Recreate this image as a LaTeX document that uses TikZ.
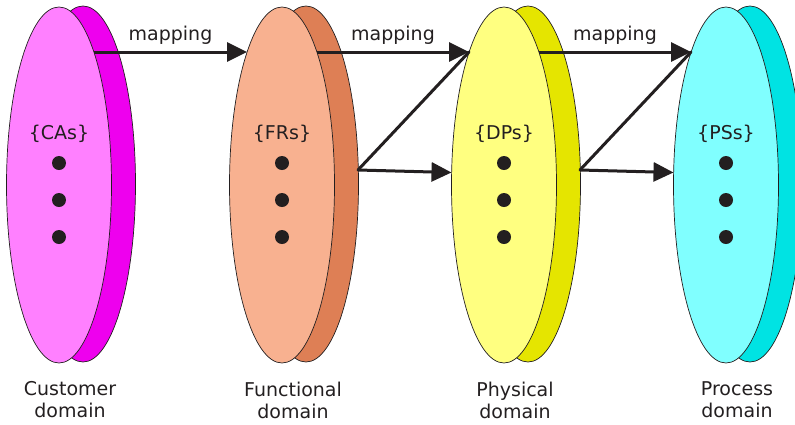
\documentclass[tikz,border=0pt]{standalone}
\usepackage{fontspec}
\setmainfont{DejaVu Sans}
\usetikzlibrary{shapes.geometric,arrows.meta,calc}

\definecolor{ink}{RGB}{35,31,32}
\definecolor{cafront}{HTML}{FF80FF}
\definecolor{caback}{HTML}{EE00EE}
\definecolor{frfront}{HTML}{F8B190}
\definecolor{frback}{HTML}{DE7F55}
\definecolor{dpfront}{HTML}{FFFF80}
\definecolor{dpback}{HTML}{E5E500}
\definecolor{psfront}{HTML}{80FFFF}
\definecolor{psback}{HTML}{00E3E3}

\tikzset{
    disc/.style={ellipse,draw=ink,line width=0.7pt,minimum width=105pt,
                 minimum height=356pt,inner sep=0pt,outer sep=0pt},
    dot/.style={circle,fill=ink,minimum size=14pt,inner sep=0pt},
    mapto/.style={draw=ink,line width=3pt,-{Triangle[length=20pt,width=19pt]}},
    mapline/.style={draw=ink,line width=3pt,line cap=round}
}

\begin{document}
\begin{tikzpicture}[x=1pt,y=-1pt,font=\fontsize{19}{22}\selectfont,text=ink]
    \useasboundingbox (0,0) rectangle (795,424);

    %% Draw the four domains.
    % Back disc first, then the front disc with its set and dots.
    \foreach \d/\x/\set/\first/\second in {%
        ca/59/CAs/Customer/domain,
        fr/282/FRs/Functional/domain,
        dp/504/DPs/Physical/domain,
        ps/726/PSs/Process/domain} {
        \node[disc,fill=\d back] (\d back) at (\x+24,184) {};
        \node[disc,fill=\d front] (\d) at (\x,185) {};
        \node (\d set) at (\x,134) {\{\set\}};
        \foreach \y/\k in {163/1,200/2,237/3} {
            \node[dot] (\d dot\k) at (\x,\y) {};
        }
        \node[align=center] (\d name) at (\x+11,400) {\first\\\second};
        % Points on the rims where the arrows meet.
        \coordinate (\d out) at ($(\d)+(35,-133)$);
        \coordinate (\d in)  at ($(\d)+(-35,-133)$);
        \coordinate (\d low) at ($(\d back)+(52,-14)$);
        \coordinate (\d mid) at ($(\d)+(-52.5,-12.5)$);
    }

    % Mapping arrows from one front disc to the next.
    \foreach \a/\b in {ca/fr,fr/dp,dp/ps} {
        \draw[mapto] (\a out) -- node[above=6pt,inner sep=0pt] (\a map) {mapping} (\b in);
    }

    % Links that leave the back discs.
    \foreach \a/\b in {fr/dp,dp/ps} {
        \draw[mapline] (\a low) -- (\b in);
        \draw[mapto] (\a low) -- (\b mid);
    }
\end{tikzpicture}
\end{document}
